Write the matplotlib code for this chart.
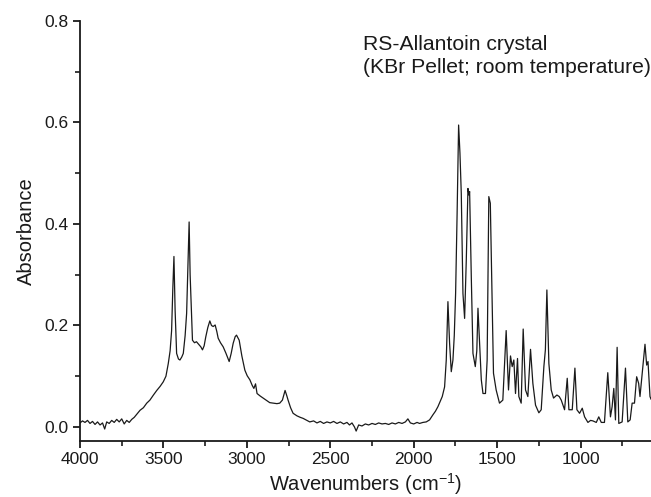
import matplotlib
matplotlib.use("Agg")
import matplotlib.pyplot as plt
from matplotlib.ticker import MultipleLocator, FormatStrFormatter

plt.rcParams['font.family'] = ['Liberation Sans', 'DejaVu Sans']
plt.rcParams['mathtext.fontset'] = 'custom'
plt.rcParams['mathtext.rm'] = 'Liberation Sans'
plt.rcParams['mathtext.it'] = 'Liberation Sans'

# Spectrum (wavenumber cm-1, absorbance)
wavenumber = [
    4000, 3985, 3970, 3955, 3940, 3925, 3910, 3895, 3880, 3865, 3852, 3840, 3825, 3810,
    3795, 3780, 3765, 3750, 3735, 3720, 3705, 3690, 3675, 3660, 3640, 3620, 3600, 3581,
    3560, 3540, 3520, 3501, 3485, 3471, 3460, 3451, 3444, 3437, 3430, 3421, 3410, 3401,
    3390, 3381, 3370, 3361, 3352, 3346, 3340, 3326, 3314, 3302, 3286, 3276, 3266, 3256,
    3246, 3234, 3222, 3212, 3202, 3190, 3180, 3172, 3158, 3142, 3125, 3106, 3094, 3082,
    3070, 3062, 3046, 3030, 3012, 2998, 2982, 2968, 2958, 2948, 2939, 2920, 2903, 2885,
    2863, 2840, 2820, 2803, 2787, 2778, 2771, 2762, 2753, 2738, 2723, 2700, 2680, 2663,
    2640, 2623, 2600, 2580, 2560, 2540, 2520, 2500, 2480, 2460, 2440, 2420, 2400, 2385,
    2370, 2355, 2345, 2330, 2310, 2290, 2270, 2250, 2230, 2210, 2190, 2170, 2150, 2130,
    2110, 2090, 2070, 2050, 2035, 2020, 2000, 1980, 1965, 1945, 1925, 1905, 1885, 1870,
    1855, 1842, 1829, 1815, 1805, 1795, 1785, 1775, 1765, 1757, 1749, 1740, 1731, 1723,
    1715, 1705, 1695, 1685, 1675, 1669, 1665, 1655, 1645, 1631, 1622, 1615, 1605, 1595,
    1585, 1570, 1560, 1550, 1541, 1531, 1522, 1506, 1486, 1466, 1456, 1446, 1432, 1420,
    1410, 1400, 1390, 1378, 1370, 1356, 1344, 1330, 1316, 1300, 1286, 1270, 1250, 1236,
    1220, 1211, 1202, 1190, 1176, 1162, 1142, 1128, 1116, 1096, 1080, 1070, 1050, 1034,
    1022, 1006, 990, 976, 956, 940, 926, 906, 891, 876, 857, 837, 821, 811,
    801, 791, 781, 771, 751, 731, 717, 703, 691, 677, 664, 652, 644, 632,
    614, 604, 596, 584, 578,
]
absorbance = [
    0.008, 0.012, 0.009, 0.013, 0.007, 0.011, 0.005, 0.010, 0.004, 0.008, -0.004, 0.010, 0.007, 0.013,
    0.009, 0.015, 0.010, 0.016, 0.006, 0.013, 0.009, 0.015, 0.019, 0.025, 0.033, 0.038, 0.047, 0.053,
    0.063, 0.072, 0.080, 0.089, 0.100, 0.125, 0.150, 0.190, 0.270, 0.336, 0.230, 0.145, 0.134, 0.132,
    0.138, 0.145, 0.180, 0.224, 0.330, 0.404, 0.300, 0.171, 0.166, 0.168, 0.162, 0.158, 0.152, 0.160,
    0.178, 0.196, 0.209, 0.200, 0.198, 0.201, 0.188, 0.175, 0.166, 0.158, 0.145, 0.129, 0.145, 0.165,
    0.178, 0.181, 0.171, 0.140, 0.112, 0.101, 0.093, 0.082, 0.076, 0.085, 0.066, 0.061, 0.057, 0.053,
    0.048, 0.047, 0.046, 0.047, 0.053, 0.064, 0.072, 0.063, 0.053, 0.038, 0.027, 0.022, 0.019, 0.017,
    0.013, 0.010, 0.012, 0.008, 0.011, 0.007, 0.010, 0.008, 0.011, 0.007, 0.010, 0.006, 0.009, 0.004,
    0.008, 0.000, -0.008, 0.004, 0.002, 0.006, 0.004, 0.007, 0.005, 0.008, 0.006, 0.007, 0.005, 0.008,
    0.006, 0.009, 0.007, 0.010, 0.016, 0.008, 0.006, 0.009, 0.007, 0.009, 0.010, 0.014, 0.024, 0.031,
    0.040, 0.050, 0.060, 0.079, 0.132, 0.247, 0.165, 0.109, 0.132, 0.180, 0.263, 0.420, 0.595, 0.540,
    0.460, 0.263, 0.214, 0.329, 0.470, 0.457, 0.464, 0.296, 0.145, 0.119, 0.150, 0.234, 0.165, 0.093,
    0.066, 0.066, 0.132, 0.454, 0.441, 0.263, 0.106, 0.073, 0.047, 0.053, 0.120, 0.190, 0.073, 0.140,
    0.119, 0.132, 0.066, 0.135, 0.060, 0.047, 0.193, 0.073, 0.060, 0.153, 0.086, 0.043, 0.028, 0.034,
    0.119, 0.152, 0.270, 0.125, 0.073, 0.057, 0.063, 0.060, 0.053, 0.034, 0.096, 0.034, 0.034, 0.116,
    0.034, 0.027, 0.037, 0.020, 0.009, 0.013, 0.012, 0.009, 0.020, 0.009, 0.009, 0.107, 0.020, 0.040,
    0.076, 0.014, 0.157, 0.007, 0.010, 0.116, 0.010, 0.014, 0.047, 0.047, 0.099, 0.086, 0.060, 0.102,
    0.163, 0.122, 0.129, 0.060, 0.055,
]

annotation_lines = ["RS-Allantoin crystal", "(KBr Pellet; room temperature)"]
x_label = "Wavenumbers (cm$^{-1}$)"
y_label = "Absorbance"

W, H = 651, 497
fig = plt.figure(figsize=(W / 100, H / 100), dpi=100)
ax = fig.add_axes([80 / W, 1 - 441 / H, 1 - 80 / W, (441 - 21) / H])

ax.plot(wavenumber, absorbance, color="#1a1a1a", linewidth=0.9)

ax.set_xlim(4000, 578)
ax.set_ylim(-0.0276, 0.8)
ax.xaxis.set_major_locator(MultipleLocator(500))
ax.xaxis.set_minor_locator(MultipleLocator(250))
ax.yaxis.set_major_locator(MultipleLocator(0.2))
ax.yaxis.set_minor_locator(MultipleLocator(0.1))
ax.yaxis.set_major_formatter(FormatStrFormatter('%.1f'))

for s in ("top", "right"):
    ax.spines[s].set_visible(False)
for s in ("left", "bottom"):
    ax.spines[s].set_linewidth(1.3)
    ax.spines[s].set_color("#1a1a1a")

ax.tick_params(axis="both", which="major", direction="out", length=5, width=1.3,
               labelsize=12.5, colors="#1a1a1a", pad=3)
ax.tick_params(axis="both", which="minor", direction="out", length=3.5, width=1.2,
               colors="#1a1a1a")

ax.set_xlabel(x_label, fontsize=14.5, color="#1a1a1a", labelpad=3)
ax.set_ylabel(y_label, fontsize=14.5, color="#1a1a1a", labelpad=6)

fig.text(363 / W, 1 - 50 / H, annotation_lines[0], fontsize=15.2, color="#1a1a1a",
         ha="left", va="baseline")
fig.text(363 / W, 1 - 73 / H, annotation_lines[1], fontsize=15.2, color="#1a1a1a",
         ha="left", va="baseline")

fig.savefig("out.png", dpi=100)
